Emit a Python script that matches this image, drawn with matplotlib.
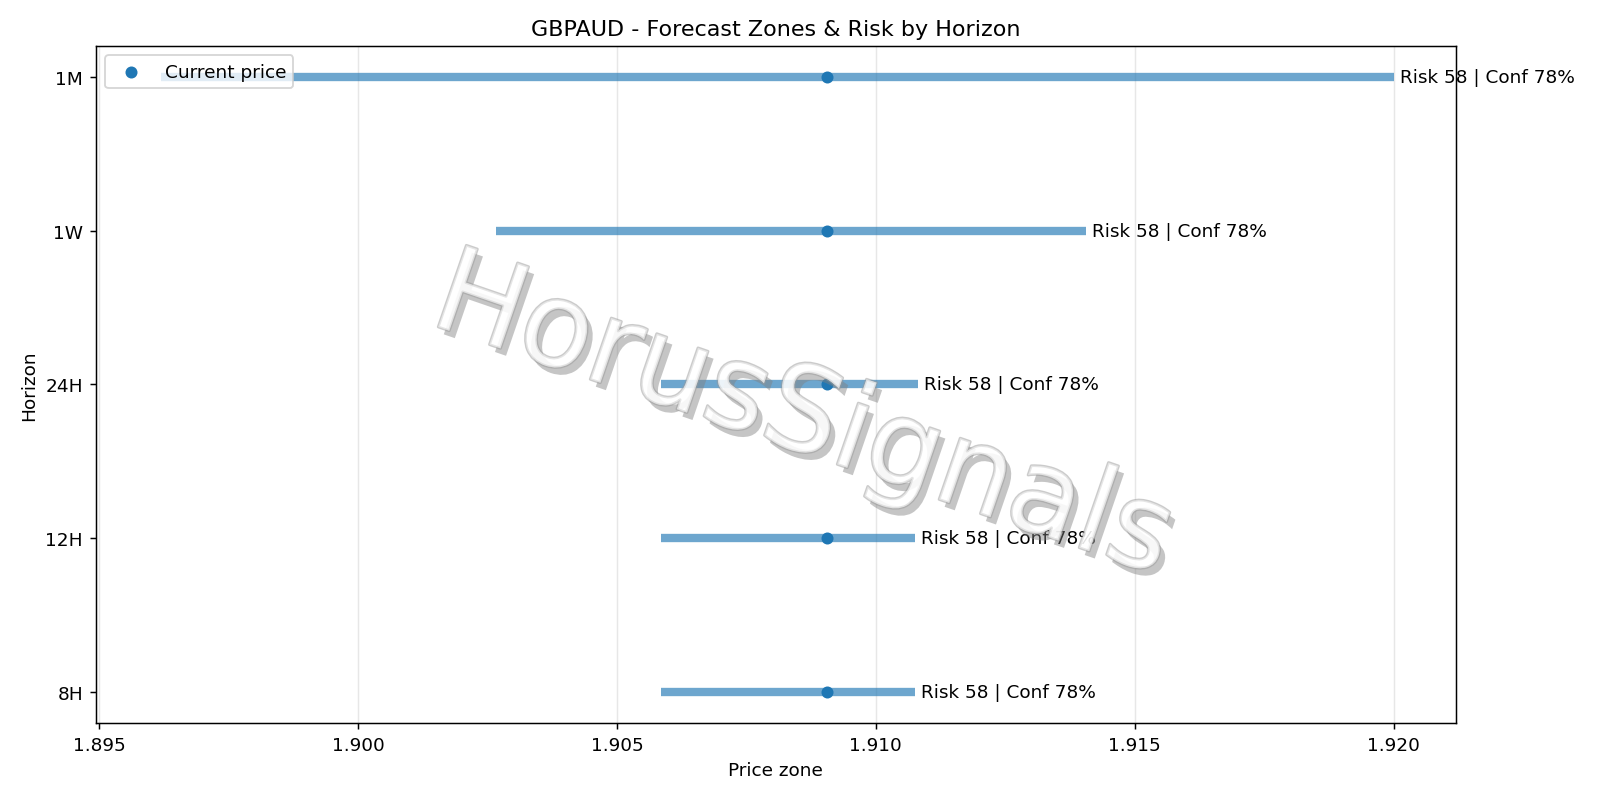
import matplotlib
matplotlib.use("Agg")
import matplotlib.pyplot as plt
import matplotlib.patheffects as pe

horizons = ["8H", "12H", "24H", "1W", "1M"]
lows = [1.90585, 1.90585, 1.90585, 1.90266, 1.8962]
highs = [1.91075, 1.91075, 1.91082, 1.91406, 1.9200]
current = 1.90905
labels = ["Risk 58 | Conf 78%"] * 5

fig, ax = plt.subplots(figsize=(12, 6), dpi=133.33)
for i, (lo, hi, lab) in enumerate(zip(lows, highs, labels)):
    ax.hlines(i, lo, hi, linewidth=4.5, color="#1f77b4", alpha=0.65)
    ax.text(hi, i, " " + lab, va="center", ha="left", fontsize=10)
ax.scatter([current] * len(horizons), range(len(horizons)), color="#1f77b4", zorder=3, s=30, label="Current price")
ax.set_yticks(range(len(horizons)))
ax.set_yticklabels(horizons)
ax.set_xlim(1.89494, 1.92120)
ax.grid(axis="x", alpha=0.3)
ax.set_xlabel("Price zone")
ax.set_ylabel("Horizon")
ax.set_title("GBPAUD - Forecast Zones & Risk by Horizon")
ax.legend(loc="upper left")
ax.text(0.52, 0.45, "HorusSignals", transform=ax.transAxes, fontsize=64, rotation=-19,
        ha="center", va="center", color="white", alpha=0.5, zorder=5,
        path_effects=[pe.withSimplePatchShadow(offset=(3, -4), shadow_rgbFace="gray", alpha=0.45),
                      pe.Stroke(linewidth=1.5, foreground="#999999"), pe.Normal()])
fig.tight_layout()
fig.savefig("out.png")
